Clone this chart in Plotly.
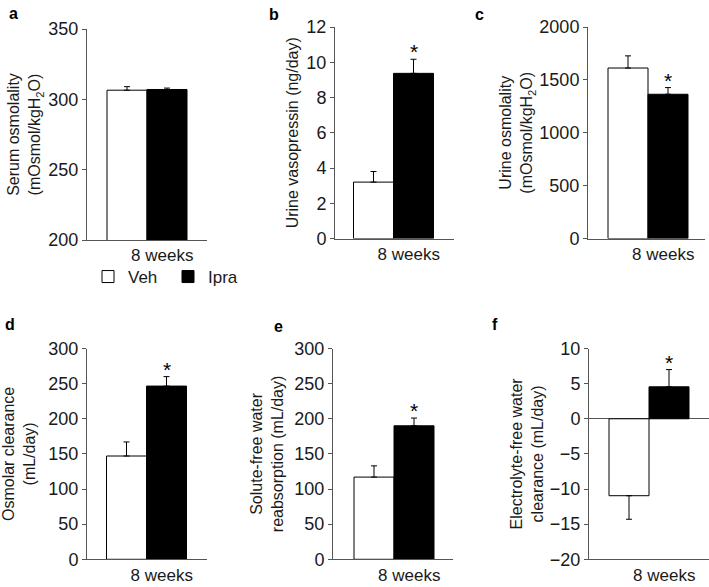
import plotly.graph_objects as go

W, H = 709, 587

groups = ["Veh", "Ipra"]
timepoint = "8 weeks"

# panel data: values and SEM (error in direction away from zero)
serum_osm = [306.5, 307.0]
serum_osm_err = [2.5, 1.0]
urine_avp = [3.2, 9.37]
urine_avp_err = [0.6, 0.8]
urine_osm = [1612, 1364]
urine_osm_err = [115, 63]
osm_clear = [147, 246.5]
osm_clear_err = [20, 13.5]
sfw_reab = [117, 190]
sfw_reab_err = [16, 11]
efw_clear = [-10.95, 4.55]
efw_clear_err = [3.35, 2.45]

panel_letters = ["a", "b", "c", "d", "e", "f"]
y_titles = [
    "Serum osmolality<br>(mOsmol/kgH<sub>2</sub>O)",
    "Urine vasopressin (ng/day)",
    "Urine osmolality<br>(mOsmol/kgH<sub>2</sub>O)",
    "Osmolar clearance<br>(mL/day)",
    "Solute-free water<br>reabsorption (mL/day)",
    "Electrolyte-free water<br>clearance (mL/day)",
]
y_ranges = [[200, 350], [0, 12], [0, 2000], [0, 300], [0, 300], [-20, 10]]
y_dticks = [50, 2, 500, 50, 50, 5]
significant = [False, True, True, True, True, True]

values = [serum_osm, urine_avp, urine_osm, osm_clear, sfw_reab, efw_clear]
errors = [serum_osm_err, urine_avp_err, urine_osm_err, osm_clear_err, sfw_reab_err, efw_clear_err]

# layout geometry in pixels: (left, right, top, bottom, veh bar centre)
geom = [
    (87, 207, 29, 240, 127),
    (335, 454, 27, 238.5, 373.5),
    (588, 705, 27, 238.5, 628),
    (87, 207, 348.5, 559.3, 126.5),
    (333, 453, 348.5, 559.3, 374),
    (589, 709, 348.5, 559.3, 629),
]
unit_px = 40.0
letter_pos = [(13, 13), (274, 14), (480, 14), (10, 324), (278, 326), (495, 324)]
standoffs = [3, 3, 2, 8, 6, 2]

fill = {"Veh": "white", "Ipra": "black"}
axis_col = "#555555"
text_col = "#1a1a1a"

fig = go.Figure()
annotations = []

for i in range(6):
    L, R, T, B, c0 = geom[i]
    xa = "x" if i == 0 else f"x{i+1}"
    ya = "y" if i == 0 else f"y{i+1}"
    for g, name in enumerate(groups):
        v = values[i][g]
        e = errors[i][g]
        up, down = (e, 0) if v >= 0 else (0, e)
        fig.add_trace(go.Bar(
            x=[g], y=[v], width=1, name=name,
            legendgroup=name, showlegend=(i == 0),
            marker=dict(color=fill[name], line=dict(color="black", width=1)),
            error_y=dict(type="data", symmetric=False, array=[up], arrayminus=[down],
                         color="black", thickness=1, width=3),
            xaxis=xa, yaxis=ya,
        ))
    xr = [(L - c0) / unit_px, (R - c0) / unit_px]
    xkey = "xaxis" if i == 0 else f"xaxis{i+1}"
    ykey = "yaxis" if i == 0 else f"yaxis{i+1}"
    fig.layout[xkey] = dict(
        domain=[L / W, R / W], range=xr, anchor=ya, automargin=False,
        showline=True, linecolor=axis_col, linewidth=1,
        showgrid=False, zeroline=False,
        tickvals=[0.88], ticktext=[timepoint], ticks="",
        tickfont=dict(size=17, color=text_col),
    )
    fig.layout[ykey] = dict(
        domain=[1 - B / H, 1 - T / H], range=y_ranges[i], anchor=xa, automargin=False,
        dtick=y_dticks[i], tick0=0,
        showline=True, linecolor=axis_col, linewidth=1,
        ticks="outside", ticklen=4, tickcolor=axis_col,
        showgrid=False,
        zeroline=(i == 5), zerolinecolor=axis_col, zerolinewidth=1,
        tickfont=dict(size=18, color=text_col),
        title=dict(text=y_titles[i], font=dict(size=16, color=text_col), standoff=standoffs[i]),
    )
    lx, ly = letter_pos[i]
    annotations.append(dict(
        text=f"<b>{panel_letters[i]}</b>", x=lx / W, y=1 - ly / H,
        xref="paper", yref="paper", showarrow=False,
        xanchor="center", yanchor="middle",
        font=dict(size=16, color="black"),
    ))
    if significant[i]:
        g = 1
        v = values[i][g]
        top = v + errors[i][g]
        annotations.append(dict(
            text="*", x=g, y=top, xref=xa, yref=ya, showarrow=False,
            xanchor="center", yanchor="bottom", yshift=-6,
            font=dict(size=21, color="black"),
        ))

fig.update_layout(
    width=W, height=H,
    margin=dict(l=0, r=0, t=0, b=0, autoexpand=False),
    paper_bgcolor="white", plot_bgcolor="white",
    font=dict(family="Liberation Sans, Arial, sans-serif", size=16, color=text_col),
    barmode="overlay",
    annotations=annotations,
    legend=dict(
        orientation="h", x=88 / W, y=1 - 259 / H,
        xanchor="left", yanchor="top",
        entrywidth=35, entrywidthmode="pixels",
        font=dict(size=17, color=text_col),
        bgcolor="rgba(0,0,0,0)",
        tracegroupgap=0,
    ),
)

fig.write_html(
    "out.html",
    config={"displayModeBar": False},
    post_script="document.body.style.margin='0px';document.body.style.overflow='hidden';",
)
